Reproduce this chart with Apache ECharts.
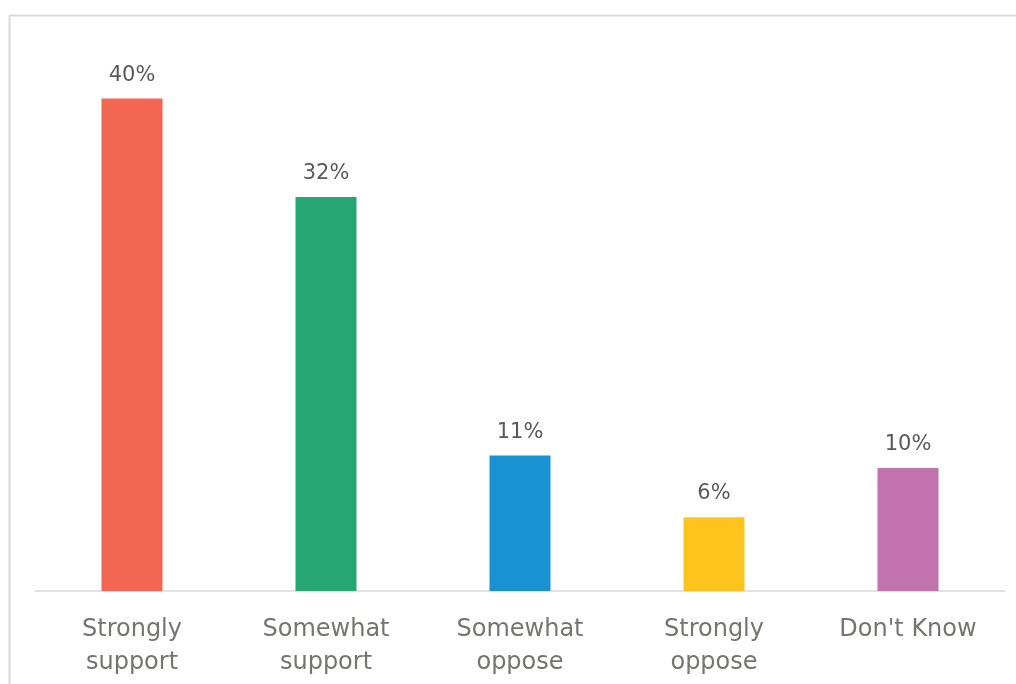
<!DOCTYPE html>
<html><head><meta charset="utf-8">
<script src="https://cdn.jsdelivr.net/npm/echarts@6/dist/echarts.min.js"></script>
<style>html,body{margin:0;padding:0;background:#fff}#c{width:1016px;height:684px}</style>
</head><body><div id="c"></div>
<script>
const categories = ['Strongly\nsupport', 'Somewhat\nsupport', 'Somewhat\noppose', 'Strongly\noppose', "Don't Know"];
const values = [40, 32, 11, 6, 10];
const colors = ['#F26652', '#26A672', '#1A92D1', '#FFC31D', '#C272AC'];

const chart = echarts.init(document.getElementById('c'), null, {renderer: 'canvas'});
chart.setOption({
  animation: false,
  backgroundColor: '#ffffff',
  graphic: [{
    type: 'rect', left: 7, top: 13, z: -1,
    shape: {x: 0, y: 0, width: 1030, height: 700},
    style: {fill: 'none', stroke: '#d9d9d9', lineWidth: 2}
  }],
  grid: {left: 35, right: 11, top: 37, bottom: 93, containLabel: false},
  xAxis: {
    type: 'category', data: categories,
    axisLine: {show: true, lineStyle: {color: '#d9d9d9', width: 1.5}},
    axisTick: {show: false},
    axisLabel: {color: '#75756f', fontFamily: 'DejaVu Sans', fontSize: 24, lineHeight: 33, margin: 22, interval: 0}
  },
  yAxis: {type: 'value', min: 0, max: 45, show: false, splitLine: {show: false}},
  series: [{
    type: 'bar', barWidth: 61,
    data: values.map((v, i) => ({value: v, itemStyle: {color: colors[i]}})),
    label: {show: true, position: 'top', distance: 13, formatter: '{c}%', color: '#595959', fontFamily: 'DejaVu Sans', fontSize: 21}
  }]
});
</script></body></html>
